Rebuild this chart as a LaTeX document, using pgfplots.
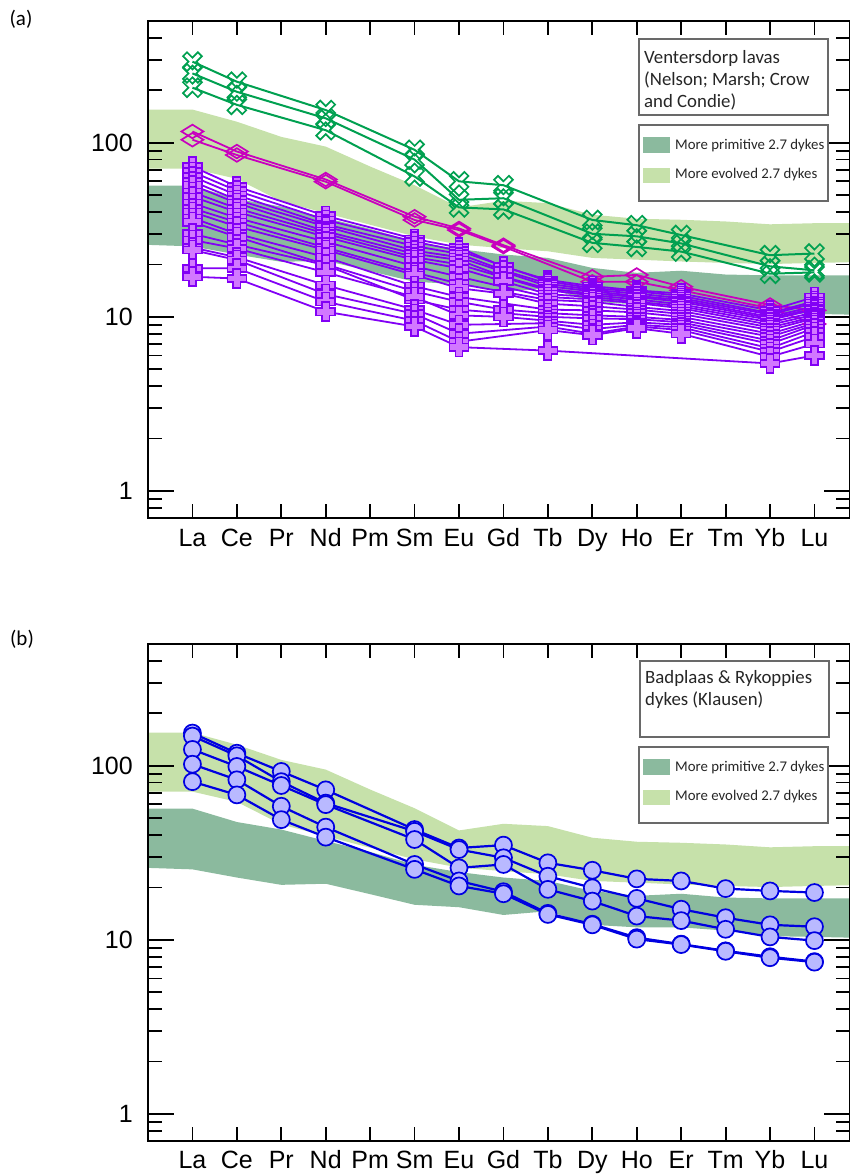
\documentclass[border=0pt]{standalone}
\usepackage{fontspec}
\setmainfont{Liberation Sans}
\newfontfamily\legfont{Carlito}
\usepackage{pgfplots}
\pgfplotsset{compat=1.18}

\definecolor{evolved}{RGB}{198,225,170}
\definecolor{primitive}{RGB}{139,186,158}
\definecolor{vgreen}{RGB}{0,160,80}
\definecolor{dmag}{RGB}{200,0,190}
\definecolor{pviolet}{RGB}{130,0,245}
\definecolor{pfill}{RGB}{210,120,255}
\definecolor{bline}{RGB}{0,0,225}
\definecolor{bfill}{RGB}{185,185,255}
\definecolor{boxgray}{RGB}{105,105,105}

% thick outlined plus
\pgfdeclareplotmark{fatplus}{%
  \pgfpathmoveto{\pgfpoint{-3.6pt}{9.5pt}}%
  \pgfpathlineto{\pgfpoint{3.6pt}{9.5pt}}%
  \pgfpathlineto{\pgfpoint{3.6pt}{3.6pt}}%
  \pgfpathlineto{\pgfpoint{9.5pt}{3.6pt}}%
  \pgfpathlineto{\pgfpoint{9.5pt}{-3.6pt}}%
  \pgfpathlineto{\pgfpoint{3.6pt}{-3.6pt}}%
  \pgfpathlineto{\pgfpoint{3.6pt}{-9.5pt}}%
  \pgfpathlineto{\pgfpoint{-3.6pt}{-9.5pt}}%
  \pgfpathlineto{\pgfpoint{-3.6pt}{-3.6pt}}%
  \pgfpathlineto{\pgfpoint{-9.5pt}{-3.6pt}}%
  \pgfpathlineto{\pgfpoint{-9.5pt}{3.6pt}}%
  \pgfpathlineto{\pgfpoint{-3.6pt}{3.6pt}}%
  \pgfpathclose
  \pgfusepathqfillstroke}
% thick outlined cross
\pgfdeclareplotmark{fatx}{%
  \begin{pgfscope}
  \pgftransformrotate{45}%
  \pgfpathmoveto{\pgfpoint{-2.8pt}{10.5pt}}%
  \pgfpathlineto{\pgfpoint{2.8pt}{10.5pt}}%
  \pgfpathlineto{\pgfpoint{2.8pt}{2.8pt}}%
  \pgfpathlineto{\pgfpoint{10.5pt}{2.8pt}}%
  \pgfpathlineto{\pgfpoint{10.5pt}{-2.8pt}}%
  \pgfpathlineto{\pgfpoint{2.8pt}{-2.8pt}}%
  \pgfpathlineto{\pgfpoint{2.8pt}{-10.5pt}}%
  \pgfpathlineto{\pgfpoint{-2.8pt}{-10.5pt}}%
  \pgfpathlineto{\pgfpoint{-2.8pt}{-2.8pt}}%
  \pgfpathlineto{\pgfpoint{-10.5pt}{-2.8pt}}%
  \pgfpathlineto{\pgfpoint{-10.5pt}{2.8pt}}%
  \pgfpathlineto{\pgfpoint{-2.8pt}{2.8pt}}%
  \pgfpathclose
  \pgfusepathqstroke
  \end{pgfscope}}
% wide open diamond
\pgfdeclareplotmark{wdiamond}{%
  \pgfpathmoveto{\pgfpoint{-11pt}{0pt}}%
  \pgfpathlineto{\pgfpoint{0pt}{6.8pt}}%
  \pgfpathlineto{\pgfpoint{11pt}{0pt}}%
  \pgfpathlineto{\pgfpoint{0pt}{-6.8pt}}%
  \pgfpathclose
  \pgfusepathqstroke}

\pgfplotsset{
  vlava/.style={vgreen, line width=2pt, mark=fatx, mark options={solid, line width=1.7pt}},
  vmag/.style={dmag, line width=1.8pt, mark=wdiamond, mark options={solid, line width=1.7pt}},
  vpl/.style={pviolet, line width=1.8pt, mark=fatplus, mark options={solid, fill=pfill, line width=1.6pt}},
  bdyke/.style={bline, line width=2.2pt, mark=*, mark size=8.5pt, mark options={solid, fill=bfill, line width=1.7pt}},
}

% reference fields of the 2.7 Ga dykes
\newcommand{\dykefields}{%
  \addplot[draw=none, fill=evolved, forget plot] coordinates {
    (0,155) (1,155) (2,132) (3,108) (4,95) (5,73) (6,57) (7,42.5) (8,46.4)
    (9,45) (10,38.6) (11,36.6) (12,36.1) (13,35.3) (14,34) (15,34.5) (15.8,34.5)
    (15.8,20.6) (15,20.4) (14,20.1) (13,20.4) (12,20.8) (11,21.3) (10,21.8)
    (9,23.8) (8,24.8) (7,26) (6,29) (5,33.8) (4,39.4) (3,46) (2,62) (1,71) (0,71)} -- cycle;
  \addplot[draw=none, fill=primitive, forget plot] coordinates {
    (0,56.7) (1,56.7) (2,47.5) (3,43) (4,37) (5,32) (6,27) (7,24.5) (8,22.8)
    (9,21.8) (10,19.1) (11,17.9) (12,18.4) (13,17.5) (14,17.3) (15,17.3) (15.8,17.3)
    (15.8,10.3) (15,10.4) (14,10.5) (13,11.3) (12,11.8) (11,11.8) (10,12.2)
    (9,14.6) (8,13.9) (7,15.4) (6,15.9) (5,18.3) (4,21) (3,20.7) (2,22.8) (1,25.4) (0,25.9)} -- cycle;
}

% key boxes, #1 = vertical offset of the panel
\newcommand{\dykekey}[1]{%
  \begin{scope}[yshift=#1]
    \draw[boxgray, line width=2pt, fill=white] (639,1049) rectangle (828,973);
    \fill[primitive] (643,1037) rectangle (670,1021);
    \fill[evolved] (643,1006) rectangle (670,991);
    \node[anchor=base west, inner sep=0pt, font=\legfont\fontsize{14.8}{17}\selectfont, text=black!85] at (675,1024) {More primitive 2.7 dykes};
    \node[anchor=base west, inner sep=0pt, font=\legfont\fontsize{14.8}{17}\selectfont, text=black!85] at (675,995) {More evolved 2.7 dykes};
  \end{scope}}

\begin{document}
\begin{tikzpicture}[x=1pt,y=1pt]
\useasboundingbox (0,0) rectangle (850,1174);

% ---------------- (a) Ventersdorp lavas ----------------
\begin{axis}[at={(148pt,656pt)}, anchor=south west,
    ymode=log,
    scale only axis, width=702pt, height=497pt,
    xmin=0, xmax=15.8, ymin=0.7, ymax=500,
    xtick={1,...,15},
    xticklabels={La,Ce,Pr,Nd,Pm,Sm,Eu,Gd,Tb,Dy,Ho,Er,Tm,Yb,Lu},
    minor xtick={1,...,15},
    major x tick style={draw=none},
    ytick={1,10,100}, yticklabels={1,10,100},
    minor ytick={0.8,0.9,2,3,4,5,6,7,8,9,20,30,40,50,60,70,80,90,200,300,400},
    tick align=inside, xtick pos=both, ytick pos=both,
    xticklabel pos=lower, yticklabel pos=left,
    major tick length=26pt, minor tick length=14pt,
    axis line style={line width=2pt},
    every tick/.style={black, line width=1.8pt},
    tick label style={font=\fontsize{25}{30}\selectfont, inner sep=0pt},
    x tick label style={anchor=north, text height=18pt, text depth=5pt},
    yticklabel shift=15pt, xticklabel shift=10pt,
    axis on top]
\dykefields
% Ventersdorp lavas
\addplot[vlava] coordinates {(1,292) (2,224) (4,154) (6,91) (7,60) (8,57) (10,36) (11,33.6) (12,29.5) (14,22.6) (15,23.1)};
\addplot[vlava] coordinates {(1,250) (2,196) (4,138) (6,80) (7,47) (8,48) (10,30) (11,29) (12,26.4) (14,19.5) (15,18.5)};
\addplot[vlava] coordinates {(1,207) (2,165) (4,118) (6,64) (7,42.5) (8,41.4) (10,26.6) (11,25.2) (12,23.7) (14,17.7) (15,18)};
\addplot[vmag] coordinates {(1,116) (2,89) (4,61.5) (6,37.6) (7,32.2) (8,25.8) (10,17) (11,17.4) (12,14.9) (14,11.7) (15,10.9)};
\addplot[vmag] coordinates {(1,104) (2,85) (4,59.7) (6,36) (7,31.5) (8,25.3) (10,15.9) (11,15.9) (12,14.2) (14,11.2) (15,9.1)};
\addplot[vpl] coordinates {(1,73) (2,56) (4,38) (6,28) (7,25) (8,19.4) (9,16.3) (10,15) (11,14.2) (12,13.6) (14,10.9) (15,13)};
\addplot[vpl] coordinates {(1,68) (2,53) (4,36) (6,27) (7,24) (9,16) (10,14.6) (11,14) (12,13.2) (14,10.5) (15,12.3)};
\addplot[vpl] coordinates {(1,64) (2,50) (4,34) (6,25.5) (7,23) (8,18.5) (9,15.5) (10,14.3) (11,13.6) (12,12.8) (14,10.3) (15,12)};
\addplot[vpl] coordinates {(1,60) (2,47) (4,33) (6,24) (7,22) (9,15) (10,14) (11,13.2) (12,12.5) (14,10) (15,11.5)};
\addplot[vpl] coordinates {(1,57) (2,45) (4,31) (6,23) (7,21.2) (8,17) (9,14.5) (10,13.6) (11,13) (12,12.2) (14,9.8) (15,11.2)};
\addplot[vpl] coordinates {(1,52) (2,42) (4,30) (6,22) (7,20) (9,14.2) (10,13.3) (11,12.6) (12,11.8) (14,9.6) (15,11)};
\addplot[vpl] coordinates {(1,49) (2,40) (4,28.8) (6,21.2) (7,19) (8,16) (9,13.5) (10,13) (11,12.2) (12,11.5) (14,9.3) (15,10.6)};
\addplot[vpl] coordinates {(1,45) (2,37) (4,27) (6,19.5) (7,17) (9,13) (10,12.6) (11,12) (12,11.2) (14,9) (15,10.3)};
\addplot[vpl] coordinates {(1,42) (2,35) (4,25) (6,18) (7,15.5) (9,12.5) (10,12.2) (11,11.4) (12,10.8) (14,8.7) (15,10)};
\addplot[vpl] coordinates {(1,40) (2,33) (4,24.2) (6,17.4) (7,14.6) (8,13.6) (9,11.9) (10,11.5) (11,11) (12,10.4) (14,8.4) (15,9.8)};
\addplot[vpl] coordinates {(1,37) (2,30) (4,22) (6,15) (7,13) (9,11) (10,10.9) (11,10.6) (12,10) (14,8) (15,9.5)};
\addplot[vpl] coordinates {(1,35) (2,28.8) (4,20) (6,14) (7,12.2) (8,11) (9,10.5) (10,10.2) (11,10) (12,9.6) (14,7.7) (15,9.2)};
\addplot[vpl] coordinates {(1,30) (2,26) (4,19.8) (6,12.5) (7,11) (9,10) (10,9.8) (11,9.7) (12,9.3) (14,7.3) (15,9)};
\addplot[vpl] coordinates {(1,27.6) (2,24.7) (4,18) (6,13) (7,10.2) (8,10) (9,9.5) (10,9) (11,9.3) (12,9) (14,7) (15,8.6)};
\addplot[vpl] coordinates {(1,25) (2,22) (4,15.2) (6,11) (7,9) (9,9.2) (10,8.5) (11,9) (12,8.7) (14,6.6) (15,8.2)};
\addplot[vpl] coordinates {(1,24.2) (2,21.2) (4,13.5) (6,10.4) (7,8) (9,8.8) (10,8) (11,8.8) (12,8.4) (14,6.3) (15,7.7)};
\addplot[vpl] coordinates {(1,19) (2,19) (4,12.2) (6,9.5) (7,7.2) (9,8.4) (10,7.85) (11,8.6) (12,8) (14,5.9) (15,7)};
\addplot[vpl] coordinates {(1,17) (2,16.6) (4,10.7) (6,8.8) (7,6.7) (9,6.4) (14,5.4) (15,6)};
\end{axis}

% ---------------- (b) Badplaas & Rykoppies dykes ----------------
\begin{axis}[at={(148pt,33pt)}, anchor=south west,
    ymode=log,
    scale only axis, width=702pt, height=497pt,
    xmin=0, xmax=15.8, ymin=0.7, ymax=500,
    xtick={1,...,15},
    xticklabels={La,Ce,Pr,Nd,Pm,Sm,Eu,Gd,Tb,Dy,Ho,Er,Tm,Yb,Lu},
    minor xtick={1,...,15},
    major x tick style={draw=none},
    ytick={1,10,100}, yticklabels={1,10,100},
    minor ytick={0.8,0.9,2,3,4,5,6,7,8,9,20,30,40,50,60,70,80,90,200,300,400},
    tick align=inside, xtick pos=both, ytick pos=both,
    xticklabel pos=lower, yticklabel pos=left,
    major tick length=26pt, minor tick length=14pt,
    axis line style={line width=2pt},
    every tick/.style={black, line width=1.8pt},
    tick label style={font=\fontsize{25}{30}\selectfont, inner sep=0pt},
    x tick label style={anchor=north, text height=18pt, text depth=5pt},
    yticklabel shift=15pt, xticklabel shift=9pt,
    axis on top]
\dykefields
\addplot[bdyke] coordinates {(1,154) (2,118) (3,92.7) (4,72.7) (6,43) (7,33.7) (8,35) (9,27.7) (10,25.1) (11,22.4) (12,21.8) (13,19.7) (14,19.1) (15,18.7)};
\addplot[bdyke] coordinates {(1,148) (2,114) (3,81) (4,61) (6,42) (7,33) (8,29.6) (9,23.2) (10,19.9) (11,17.3) (12,15) (13,13.4) (14,12.2) (15,11.9)};
\addplot[bdyke] coordinates {(1,124) (2,99) (3,77) (4,59.8) (6,37.7) (7,25.9) (8,27.1) (9,19.5) (10,16.7) (11,13.7) (12,12.9) (13,11.5) (14,10.4) (15,9.9)};
\addplot[bdyke] coordinates {(1,102) (2,83) (3,58.5) (4,44.4) (6,27.1) (7,21.8) (8,18.9) (9,14.2) (10,12.3) (11,10.3) (12,9.45) (13,8.65) (14,8) (15,7.5)};
\addplot[bdyke] coordinates {(1,81) (2,68) (3,49) (4,38.9) (6,25.4) (7,20.4) (8,18.4) (9,14) (10,12.2) (11,10.1) (12,9.4) (13,8.6) (14,7.9) (15,7.45)};
\end{axis}

% panel letters
\node[font=\legfont\fontsize{21}{25}\selectfont] at (21,1155) {(a)};
\node[font=\legfont\fontsize{21}{25}\selectfont] at (22,535) {(b)};

% keys of panel (a)
\draw[boxgray, line width=2pt, fill=white] (639,1135) rectangle (828,1059);
\begin{scope}[every node/.style={anchor=base west, inner sep=0pt, font=\legfont\fontsize{18.8}{22}\selectfont, text=black!85}]
  \node at (644,1110.5) {Ventersdorp lavas};
  \node at (644,1088) {(Nelson; Marsh; Crow};
  \node at (644,1066) {and Condie)};
\end{scope}
\dykekey{0pt}

% keys of panel (b)
\draw[boxgray, line width=2pt, fill=white] (640,513.3) rectangle (829,437.3);
\begin{scope}[every node/.style={anchor=base west, inner sep=0pt, font=\legfont\fontsize{18.8}{22}\selectfont, text=black!85}]
  \node at (645,490.5) {Badplaas \& Rykoppies};
  \node at (645,468) {dykes (Klausen)};
\end{scope}
\dykekey{-622pt}
\end{tikzpicture}
\end{document}
